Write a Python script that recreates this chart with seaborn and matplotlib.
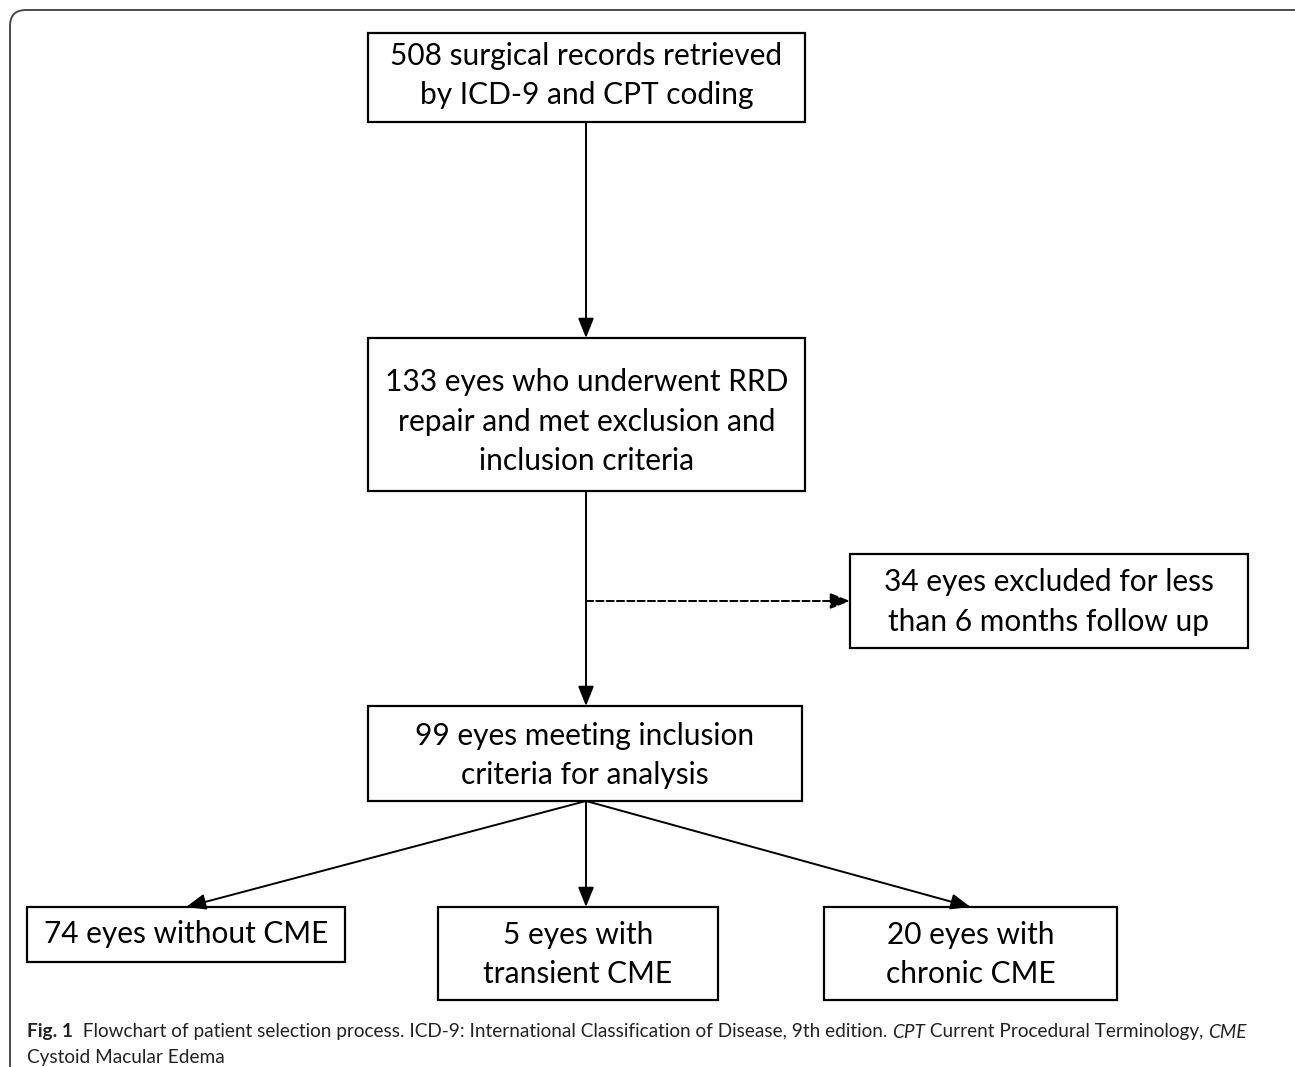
import matplotlib
matplotlib.use('Agg')
import matplotlib.pyplot as plt
from matplotlib.patches import FancyBboxPatch, Rectangle
import seaborn as sns

sns.set_theme(style='white')
plt.rcParams['font.family'] = ['Lato', 'DejaVu Sans']

# box texts of the flowchart
box_labels = [
    '508 surgical records retrieved\nby ICD-9 and CPT coding',
    '133 eyes who underwent RRD\nrepair and met exclusion and\ninclusion criteria',
    '34 eyes excluded for less\nthan 6 months follow up',
    '99 eyes meeting inclusion\ncriteria for analysis',
    '74 eyes without CME',
    '5 eyes with\ntransient CME',
    '20 eyes with\nchronic CME',
]
# links between boxes: (from, to, dashed)
links = [(0, 1, False), (1, 3, False), (1, 2, True), (3, 4, False), (3, 5, False), (3, 6, False)]

caption_parts = [
    ('Fig. 1', 'bold', 'normal'),
    ('  Flowchart of patient selection process. ICD-9: International Classification of Disease, 9th edition. ', 'normal', 'normal'),
    ('CPT', 'normal', 'italic'),
    (' Current Procedural Terminology, ', 'normal', 'normal'),
    ('CME', 'normal', 'italic'),
]
caption_line2 = 'Cystoid Macular Edema'

# layout in pixels (x0, y0, x1, y1) and text nudges
boxes = [
    (368, 33, 805, 122),
    (368, 338, 805, 491),
    (850, 554, 1248, 648),
    (368, 706, 802, 801),
    (27, 907, 345, 962),
    (438, 907, 718, 1000),
    (824, 907, 1117, 1000),
]
text_dy = [-2, 7, 1, 2, 0, 1, 1]

W, H = 1295, 1067
fig = plt.figure(figsize=(W / 100, H / 100), dpi=100)
ax = fig.add_axes([0, 0, 1, 1])
ax.set_xlim(0, W)
ax.set_ylim(H, 0)
ax.axis('off')

frame = FancyBboxPatch((10, 10), W + 20, H + 40,
                       boxstyle='round,pad=0,rounding_size=16',
                       fill=False, ec='#4a4a4a', lw=1.4)
ax.add_patch(frame)

for (x0, y0, x1, y1), lab, dy in zip(boxes, box_labels, text_dy):
    ax.add_patch(Rectangle((x0, y0), x1 - x0, y1 - y0, fill=False, ec='black', lw=1.6))
    ax.text((x0 + x1) / 2, (y0 + y1) / 2 + dy, lab, ha='center', va='center',
            fontsize=21.5, color='black', linespacing=1.48)

trunk_x = 586
for a, b, dashed in links:
    ax0, ay0, ax1, ay1 = boxes[a]
    bx0, by0, bx1, by1 = boxes[b]
    if dashed:
        ymid = (by0 + by1) / 2
        start = (trunk_x, ymid)
        end = (bx0, ymid)
    elif a == 3 and b != 5:
        start = (trunk_x, ay1)
        end = ((bx0 + bx1) / 2, by0)
    else:
        start = (trunk_x, ay1)
        end = (trunk_x, by0)
    ax.annotate('', xy=end, xytext=start,
                arrowprops=dict(arrowstyle='-|>,head_length=1.0,head_width=0.4',
                                color='black', lw=1.4,
                                linestyle='--' if dashed else '-',
                                shrinkA=0, shrinkB=0))

# caption with mixed styles, sized to fit the reference width
fig.canvas.draw()
r = fig.canvas.get_renderer()
target = 1250 - 27
fs = 15.0
for _ in range(2):
    total = 0
    for txt, wt, st in caption_parts:
        t = ax.text(0, 0, txt, fontsize=fs, fontweight=wt, fontstyle=st)
        total += t.get_window_extent(renderer=r).width
        t.remove()
    fs = fs * target / total

x = 27
for txt, wt, st in caption_parts:
    t = ax.text(x, 1032, txt, ha='left', va='center', fontsize=fs,
                fontweight=wt, fontstyle=st, color='#222222')
    x += t.get_window_extent(renderer=r).width
ax.text(27, 1057, caption_line2, ha='left', va='center', fontsize=fs,
        color='#222222')

fig.savefig('out.png', dpi=100)
